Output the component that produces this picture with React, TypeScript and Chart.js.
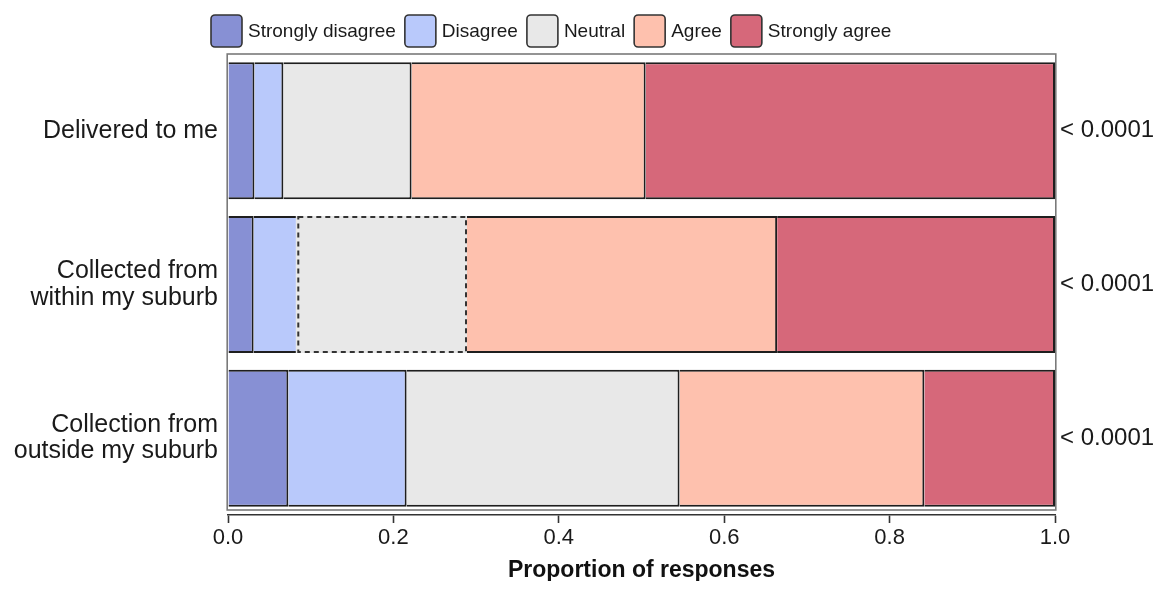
import React, { useEffect, useRef } from 'react';
import { Chart, registerables } from 'chart.js';

Chart.register(...registerables);

const FONT = '"Liberation Sans", Arial, Helvetica, sans-serif';

// ---- data ----
const categories: (string | string[])[] = [
  'Delivered to me',
  ['Collected from', 'within my suburb'],
  ['Collection from', 'outside my suburb'],
];
const pValues = ['< 0.0001', '< 0.0001', '< 0.0001'];
const xTickLabels = ['0.0', '0.2', '0.4', '0.6', '0.8', '1.0'];
const seriesNames = ['Strongly disagree', 'Disagree', 'Neutral', 'Agree', 'Strongly agree'];
const seriesColors = ['#8790d4', '#b9c9fb', '#e8e8e8', '#fec1ae', '#d6687a'];

const stronglyDisagree = [0.032, 0.031, 0.073];
const disagree = [0.035, 0.054, 0.143];
const neutral = [0.155, 0.204, 0.330];
const agree = [0.283, 0.375, 0.296];
const stronglyAgree = [0.495, 0.336, 0.158];

const seriesValues = [stronglyDisagree, disagree, neutral, agree, stronglyAgree];

// segment drawn with a dashed outline (series index, category index)
const dashedSeries = 2;
const dashedCategory = 1;

const framePlugin = {
  id: 'frameAndDash',
  afterDatasetsDraw(chart: any) {
    const { ctx, chartArea: a } = chart;
    ctx.save();
    const meta = chart.getDatasetMeta(dashedSeries);
    const el = meta && meta.data[dashedCategory];
    if (el) {
      const { x, y, base, height } = el.getProps(['x', 'y', 'base', 'height'], true);
      const left = Math.min(x, base);
      const right = Math.max(x, base);
      const top = y - height / 2;
      ctx.fillStyle = seriesColors[dashedSeries];
      ctx.fillRect(left - 2.5, top, right - left + 2.5, height);
      ctx.setLineDash([5, 4]);
      ctx.lineWidth = 2;
      ctx.strokeStyle = '#333';
      ctx.strokeRect(left, top + 1, right - left - 1, height - 2);
    }
    ctx.setLineDash([]);
    ctx.strokeStyle = '#7a7a7a';
    ctx.lineWidth = 1.6;
    ctx.strokeRect(a.left - 0.8, a.top, a.right - a.left + 1.6, a.bottom - a.top - 5);
    ctx.restore();
  },
};

const legendPlugin = {
  id: 'topLegend',
  afterDraw(chart: any) {
    const { ctx, chartArea } = chart;
    ctx.save();
    ctx.font = `19px ${FONT}`;
    ctx.textBaseline = 'middle';
    ctx.textAlign = 'left';
    let x = chartArea.left - 17;
    const top = 7;
    const bw = 31;
    const bh = 32;
    chart.data.datasets.forEach((ds: any) => {
      ctx.beginPath();
      ctx.roundRect(x, top, bw, bh, 4);
      ctx.fillStyle = ds.backgroundColor;
      ctx.fill();
      ctx.lineWidth = 1.6;
      ctx.strokeStyle = '#333';
      ctx.stroke();
      x += bw + 6;
      ctx.fillStyle = '#1a1a1a';
      ctx.fillText(ds.label, x, top + bh / 2 + 1);
      x += ctx.measureText(ds.label).width + 9;
    });
    ctx.restore();
  },
};

export default function App() {
  const ref = useRef<HTMLCanvasElement | null>(null);

  useEffect(() => {
    if (!ref.current) return;
    Chart.defaults.font.family = FONT;
    Chart.defaults.color = '#1a1a1a';

    const chart = new Chart(ref.current, {
      type: 'bar',
      data: {
        labels: categories as any,
        datasets: seriesNames.map((name, i) => ({
          label: name,
          data: seriesValues[i],
          backgroundColor: seriesColors[i],
          borderColor: '#1e1e1e',
          borderWidth: (c: any) =>
            c.datasetIndex === dashedSeries && c.dataIndex === dashedCategory ? 0 : 2,
          borderSkipped: 'start',
          categoryPercentage: 0.892,
          barPercentage: 1.0,
        })),
      },
      options: {
        indexAxis: 'y',
        responsive: false,
        animation: false,
        devicePixelRatio: 1,
        layout: { padding: { top: 46, left: 0, right: 0, bottom: 0 } },
        plugins: {
          legend: { display: false },
          tooltip: { enabled: false },
        },
        scales: {
          x: {
            stacked: true,
            min: 0,
            max: 1,
            ticks: {
              stepSize: 0.2,
              callback: (_v: any, i: number) => xTickLabels[i],
              font: { size: 22 },
              color: '#1a1a1a',
              padding: 2,
              maxRotation: 0,
            },
            grid: {
              drawOnChartArea: false,
              drawTicks: true,
              tickLength: 8,
              tickColor: '#333',
              tickWidth: 1.6,
            },
            border: { display: true, color: '#333', width: 1.6 },
            title: {
              display: true,
              text: 'Proportion of responses',
              font: { size: 23, weight: 'bold' },
              color: '#111',
              padding: { top: 0, bottom: -3 },
            },
            afterFit: (s: any) => {
              s.height = 66;
            },
          },
          y: {
            stacked: true,
            type: 'category',
            labels: categories as any,
            grid: { display: false, drawTicks: false },
            border: { display: false },
            ticks: { font: { size: 25, lineHeight: 1.05 }, color: '#1a1a1a', padding: 10 },
            afterFit: (s: any) => {
              s.width = 220;
            },
          },
          y2: {
            type: 'category',
            position: 'right',
            labels: pValues,
            offset: true,
            grid: { display: false, drawTicks: false },
            border: { display: false },
            ticks: { font: { size: 24 }, color: '#1a1a1a', padding: 5 },
            afterFit: (s: any) => {
              s.width = 100;
            },
          },
        },
      } as any,
      plugins: [framePlugin, legendPlugin],
    });
    return () => chart.destroy();
  }, []);

  return (
    <div style={{ width: 1147, height: 573 }}>
      <canvas ref={ref} width={1147} height={573} style={{ display: 'block' }} />
    </div>
  );
}
